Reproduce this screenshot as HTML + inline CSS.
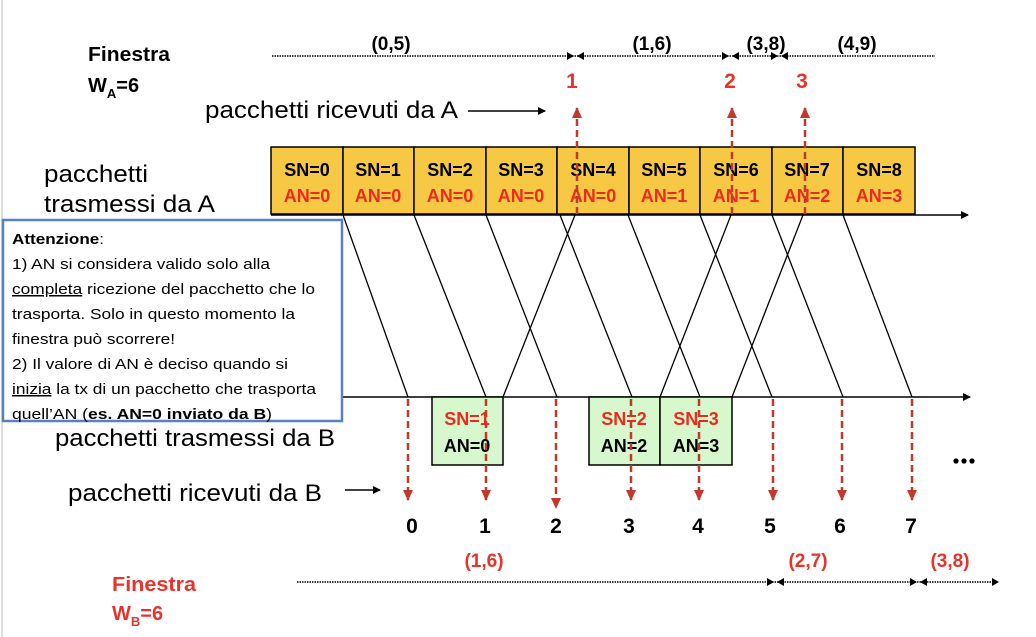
<!DOCTYPE html>
<html><head><meta charset="utf-8"><style>
body{margin:0;background:#fff}
svg{display:block}
.b{font-family:"Liberation Sans",Arial,sans-serif;font-weight:bold}
.n{font-family:"Liberation Sans",Arial,sans-serif}
</style></head><body>
<svg width="1036" height="637" viewBox="0 0 1036 637" xmlns="http://www.w3.org/2000/svg">
<defs>
<marker id="ar" markerWidth="8" markerHeight="8" refX="7" refY="4" orient="auto" markerUnits="userSpaceOnUse"><path d="M0,0 L8,4 L0,8z" fill="#000"/></marker>
<marker id="rr" markerWidth="12" markerHeight="10" refX="10" refY="5" orient="auto" markerUnits="userSpaceOnUse"><path d="M0,0 L11,5 L0,10z" fill="#c0392b"/></marker>
</defs>
<line x1="2" y1="0" x2="2" y2="637" stroke="#ddd" stroke-width="2"/>

<text class="b" x="88" y="61" font-size="20" textLength="82" lengthAdjust="spacingAndGlyphs">Finestra</text>
<text class="b" x="88" y="92" font-size="20">W<tspan font-size="13" dy="6">A</tspan><tspan dy="-6">=6</tspan></text>
<line x1="272" y1="56" x2="935" y2="56" stroke="#000" stroke-width="1.5" stroke-dasharray="1.5,1"/>
<g fill="#000">
<path d="M567,52 L574,56 L567,60z"/><path d="M584,52 L577,56 L584,60z"/>
<path d="M722,52 L729,56 L722,60z"/><path d="M739,52 L732,56 L739,60z"/>
<path d="M771,52 L778,56 L771,60z"/><path d="M788,52 L781,56 L788,60z"/>
</g>
<g class="b" font-size="19" text-anchor="middle">
<text x="391" y="50">(0,5)</text><text x="652" y="50">(1,6)</text><text x="766" y="50">(3,8)</text><text x="857" y="50">(4,9)</text>
</g>
<g class="b" font-size="21" fill="#e8322a" text-anchor="middle">
<text x="572" y="88">1</text><text x="730" y="88">2</text><text x="802" y="88">3</text>
</g>
<text class="n" x="205" y="118" font-size="24" textLength="253" lengthAdjust="spacingAndGlyphs">pacchetti ricevuti da A</text>
<line x1="468" y1="111" x2="545" y2="111" stroke="#000" stroke-width="1.5" marker-end="url(#ar)"/>
<text class="n" x="44" y="182" font-size="24" textLength="104" lengthAdjust="spacingAndGlyphs">pacchetti</text>
<text class="n" x="44" y="212" font-size="24" textLength="171" lengthAdjust="spacingAndGlyphs">trasmessi da A</text>

<g stroke="#000" stroke-width="1.5" fill="#f7c843">
<rect x="271" y="147" width="72" height="67"/><rect x="343" y="147" width="71" height="67"/>
<rect x="414" y="147" width="72" height="67"/><rect x="486" y="147" width="71" height="67"/>
<rect x="557" y="147" width="72" height="67"/><rect x="629" y="147" width="71" height="67"/>
<rect x="700" y="147" width="72" height="67"/><rect x="772" y="147" width="71" height="67"/>
<rect x="843" y="147" width="72" height="67"/>
</g>
<g class="b" font-size="18" text-anchor="middle">
<text x="307" y="176">SN=0</text><text x="378" y="176">SN=1</text><text x="450" y="176">SN=2</text>
<text x="521" y="176">SN=3</text><text x="593" y="176">SN=4</text><text x="664" y="176">SN=5</text>
<text x="736" y="176">SN=6</text><text x="807" y="176">SN=7</text><text x="879" y="176">SN=8</text>
</g>
<g class="b" font-size="18" text-anchor="middle" fill="#ee2a1e">
<text x="307" y="202">AN=0</text><text x="378" y="202">AN=0</text><text x="450" y="202">AN=0</text>
<text x="521" y="202">AN=0</text><text x="593" y="202">AN=0</text><text x="664" y="202">AN=1</text>
<text x="736" y="202">AN=1</text><text x="807" y="202">AN=2</text><text x="879" y="202">AN=3</text>
</g>
<line x1="271" y1="215" x2="968" y2="215" stroke="#000" stroke-width="1.5" marker-end="url(#ar)"/>

<line x1="343" y1="397" x2="970" y2="397" stroke="#000" stroke-width="1.5" marker-end="url(#ar)"/>

<g stroke="#000" stroke-width="1.3">
<line x1="343" y1="215" x2="408" y2="397"/>
<line x1="414" y1="215" x2="486" y2="397"/>
<line x1="486" y1="215" x2="557" y2="397"/>
<line x1="560" y1="215" x2="632" y2="397"/>
<line x1="628" y1="215" x2="700" y2="397"/>
<line x1="700" y1="215" x2="772" y2="397"/>
<line x1="772" y1="215" x2="843" y2="397"/>
<line x1="843" y1="215" x2="912" y2="397"/>
<line x1="503" y1="397" x2="575" y2="215"/>
<line x1="660" y1="397" x2="731" y2="215"/>
<line x1="732" y1="397" x2="803" y2="215"/>
</g>

<g stroke="#000" stroke-width="1.5" fill="#d6f8cc">
<rect x="432" y="397" width="71" height="68"/>
<rect x="589" y="397" width="71" height="68"/>
<rect x="660" y="397" width="72" height="68"/>
</g>
<g class="b" font-size="18" text-anchor="middle">
<text x="467" y="425" fill="#ee2a1e">SN=1</text><text x="467" y="452">AN=0</text>
<text x="624" y="425" fill="#ee2a1e">SN=2</text><text x="624" y="452">AN=2</text>
<text x="696" y="425" fill="#ee2a1e">SN=3</text><text x="696" y="452">AN=3</text>
</g>

<g stroke="#c0392b" stroke-width="2.5" stroke-dasharray="7,4" marker-end="url(#rr)">
<line x1="577" y1="214" x2="577" y2="108"/>
<line x1="732" y1="214" x2="732" y2="108"/>
<line x1="805" y1="214" x2="805" y2="108"/>
<line x1="408" y1="399" x2="408" y2="500"/>
<line x1="486" y1="399" x2="486" y2="500"/>
<line x1="556" y1="399" x2="556" y2="508"/>
<line x1="631" y1="399" x2="631" y2="500"/>
<line x1="699" y1="399" x2="699" y2="500"/>
<line x1="773" y1="399" x2="773" y2="500"/>
<line x1="842" y1="399" x2="842" y2="500"/>
<line x1="912" y1="399" x2="912" y2="500"/>
</g>

<g fill="#000"><circle cx="956" cy="461" r="2.6"/><circle cx="964" cy="461" r="2.6"/><circle cx="972" cy="461" r="2.6"/></g>
<text class="n" x="55" y="446" font-size="24" textLength="280" lengthAdjust="spacingAndGlyphs">pacchetti trasmessi da B</text>
<text class="n" x="68" y="501" font-size="24" textLength="254" lengthAdjust="spacingAndGlyphs">pacchetti ricevuti da B</text>
<line x1="345" y1="490" x2="380" y2="490" stroke="#000" stroke-width="1.5" marker-end="url(#ar)"/>

<g class="b" font-size="21" text-anchor="middle">
<text x="412" y="533">0</text><text x="485" y="533">1</text><text x="556" y="533">2</text>
<text x="629" y="533">3</text><text x="698" y="533">4</text><text x="770" y="533">5</text>
<text x="840" y="533">6</text><text x="911" y="533">7</text>
</g>

<g class="b" font-size="19" text-anchor="middle" fill="#e8322a">
<text x="484" y="567">(1,6)</text><text x="808" y="567">(2,7)</text><text x="950" y="567">(3,8)</text>
</g>
<line x1="297" y1="582" x2="996" y2="582" stroke="#000" stroke-width="1.5" stroke-dasharray="1.5,1"/>
<g fill="#000">
<path d="M767,578 L774,582 L767,586z"/><path d="M784,578 L777,582 L784,586z"/>
<path d="M910,578 L917,582 L910,586z"/><path d="M927,578 L920,582 L927,586z"/>
<path d="M992,578 L999,582 L992,586z"/>
</g>
<text class="b" x="112" y="591" font-size="20" fill="#e8322a" textLength="84" lengthAdjust="spacingAndGlyphs">Finestra</text>
<text class="b" x="112" y="620" font-size="20" fill="#e8322a">W<tspan font-size="13" dy="6">B</tspan><tspan dy="-6">=6</tspan></text>

<rect x="3" y="220" width="339" height="201" fill="#fff" stroke="#5b80c0" stroke-width="2.5"/>
<g class="n" font-size="15">
<text x="12" y="244" textLength="92" lengthAdjust="spacingAndGlyphs"><tspan font-weight="bold">Attenzione</tspan>:</text>
<text x="12" y="269" textLength="258" lengthAdjust="spacingAndGlyphs">1) AN si considera valido solo alla</text>
<text x="12" y="294" textLength="303" lengthAdjust="spacingAndGlyphs"><tspan text-decoration="underline">completa</tspan> ricezione del pacchetto che lo</text>
<text x="12" y="319" textLength="283" lengthAdjust="spacingAndGlyphs">trasporta. Solo in questo momento la</text>
<text x="12" y="344" textLength="163" lengthAdjust="spacingAndGlyphs">finestra può scorrere!</text>
<text x="12" y="369" textLength="276" lengthAdjust="spacingAndGlyphs">2) Il valore di AN è deciso quando si</text>
<text x="12" y="394" textLength="304" lengthAdjust="spacingAndGlyphs"><tspan text-decoration="underline">inizia</tspan> la tx di un pacchetto che trasporta</text>
<text x="12" y="419" textLength="260" lengthAdjust="spacingAndGlyphs">quell’AN (<tspan font-weight="bold">es. AN=0 inviato da B</tspan>)</text>
</g>
</svg>
</body></html>
